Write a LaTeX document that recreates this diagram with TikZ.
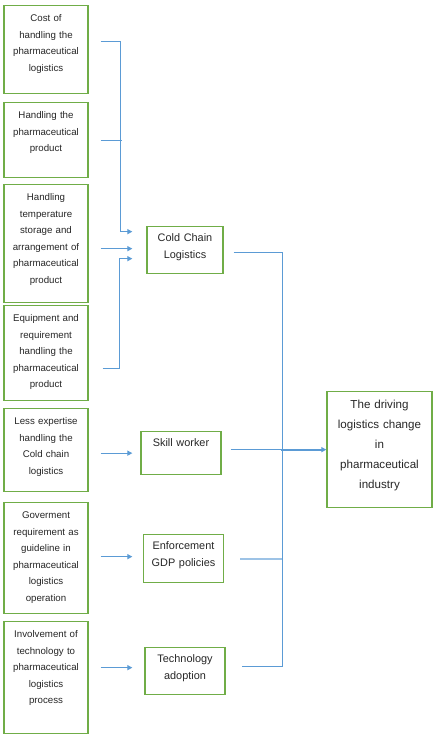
\documentclass[tikz,border=0pt]{standalone}
\usepackage{fontspec}
\setmainfont{Liberation Sans}
\usetikzlibrary{arrows.meta}
\definecolor{boxgreen}{HTML}{70AD47}
\definecolor{linkblue}{HTML}{5B9BD5}
\definecolor{stubblue}{HTML}{9DC3E6}
\begin{document}
\begin{tikzpicture}[x = 1pt, y = -1pt,
		leftbox/.style = {draw = boxgreen, line width = 1.3pt, anchor = north, text width = 78pt, align = center, inner sep = 3pt, text height = 13pt, text = black!85, font = \fontsize{9.7}{16.5}\selectfont},
		midbox/.style = {leftbox, text width = 74pt, text height = 12pt, font = \fontsize{10.9}{17}\selectfont},
		goalbox/.style = {leftbox, text width = 99pt, text height = 14pt, font = \fontsize{11.6}{20}\selectfont},
		link/.style = {draw = linkblue, line width = 1.2pt},
		arrowlink/.style = {link, -{Triangle[length = 5pt, width = 5pt]}}]
		\useasboundingbox (0, 0) rectangle (440, 738);
		% left column
		\node[leftbox, text depth = 69pt] (cost) at (46, 5) {Cost of\\handling the\\pharmaceutical\\logistics};
		\node[leftbox, text depth = 56pt] (prod) at (46, 102) {Handling the\\pharmaceutical\\product};
		\node[leftbox, text depth = 99pt] (temp) at (46, 184) {Handling\\temperature\\storage and\\arrangement of\\pharmaceutical\\product};
		\node[leftbox, text depth = 76pt] (equip) at (46, 305) {Equipment and\\requirement\\handling the\\pharmaceutical\\product};
		\node[leftbox, text depth = 64pt] (less) at (46, 408) {Less expertise\\handling the\\Cold chain\\logistics};
		\node[leftbox, text depth = 92pt] (gov) at (46, 502) {Goverment\\requirement as\\guideline in\\pharmaceutical\\logistics\\operation};
		\node[leftbox, text depth = 93pt] (inv) at (46, 621) {Involvement of\\technology to\\pharmaceutical\\logistics\\process};
		% middle column
		\node[midbox, text width = 70pt, text depth = 29pt] (cold) at (185, 226) {Cold Chain\\Logistics};
		\node[midbox, text depth = 25pt] (skill) at (181, 431) {Skill worker};
		\node[midbox, text depth = 30pt] (enf) at (183.5, 534) {Enforcement\\GDP policies};
		\node[midbox, text depth = 29pt] (tech) at (185, 647) {Technology\\adoption};
		% goal
		\node[goalbox, text depth = 96pt] (driving) at (379.5, 391) {The driving\\logistics change\\in\\pharmaceutical\\industry};
		% into cold chain
		\draw[arrowlink] ([shift = {(12pt, 8pt)}]cost.east) -| ([shift = {(-26pt, 18.5pt)}]cold.west) -- ([shift = {(-14pt, 18.5pt)}]cold.west);
		\draw[link] ([xshift = 12pt]prod.east) -- ++(21, 0);
		\draw[arrowlink] ([shift = {(12pt, -5pt)}]temp.east) -- ([shift = {(-14pt, 1.5pt)}]cold.west);
		\draw[arrowlink] ([shift = {(14pt, -15.5pt)}]equip.east) -| ([shift = {(-27pt, -8.5pt)}]cold.west) -- ([shift = {(-14pt, -8.5pt)}]cold.west);
		% single rows
		\draw[arrowlink] ([shift = {(12pt, -3pt)}]less.east) -- ([xshift = -8pt]skill.west);
		\draw[arrowlink] ([shift = {(12pt, 1.5pt)}]gov.east) -- ([shift = {(-10.5pt, 2pt)}]enf.west);
		\draw[arrowlink] ([shift = {(12pt, 10pt)}]inv.east) -- ([shift = {(-12pt, 3.5pt)}]tech.west);
		% into goal
		\draw[link] ([shift = {(10pt, -2.5pt)}]cold.east) -| ([shift = {(57pt, 4.5pt)}]tech.east) -- ([shift = {(16pt, 4.5pt)}]tech.east);
		\draw[link] ([shift = {(9pt, 3.5pt)}]skill.east) -- ([xshift = -45pt]driving.west);
		\draw[arrowlink, line width = 2pt] ([xshift = -45pt]driving.west) -- (driving.west);
		\draw[link, draw = stubblue, line width = 2.2pt] ([xshift = 16pt]enf.east) -- ++(42, 0);
	\end{tikzpicture}
\end{document}
